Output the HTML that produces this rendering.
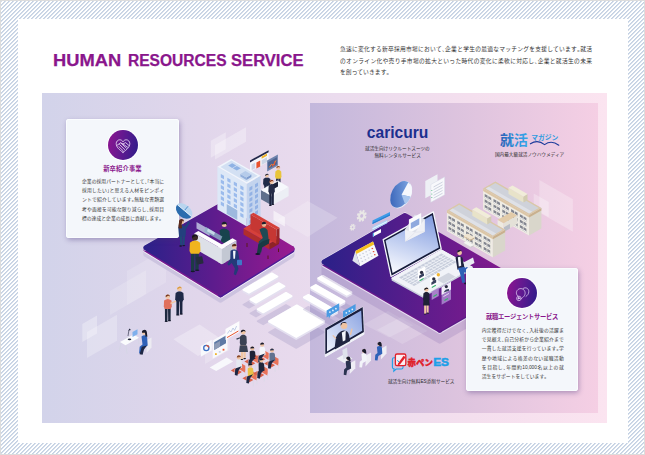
<!DOCTYPE html>
<html lang="ja"><head><meta charset="utf-8"><title>HUMAN RESOURCES SERVICE</title>
<style>
html,body{margin:0;padding:0}
body{width:645px;height:455px;overflow:hidden;position:relative;background:#fff;
 font-family:"Liberation Sans","Noto Sans CJK JP",sans-serif;color:#333;}
.frame{position:absolute;left:0;top:0;width:643px;height:453px;border:1px solid #dcdcdc;
 background:repeating-linear-gradient(135deg,#c4d1e3 0,#c4d1e3 0.62px,#ffffff 0.95px,#ffffff 2.8284px);}
.sheet{position:absolute;left:18px;top:19px;width:610px;height:424px;background:#fff;}
h1{position:absolute;left:0;top:50.2px;margin:0;font-size:15.8px;line-height:22px;font-weight:bold;color:#8a168c;-webkit-text-stroke:.25px #8a168c;white-space:nowrap;width:320px;height:22px}
h1 span{position:absolute;top:0;display:block;transform-origin:0 50%;}
.lead{position:absolute;left:340px;top:44px;width:252px;margin:0;font-size:5.75px;line-height:11.5px;color:#333;white-space:nowrap;}
.lead span{display:block;text-align:justify;text-align-last:justify}
.lead span.last{text-align-last:left;letter-spacing:0.1px}
.stage{position:absolute;left:42px;top:93px;width:565px;height:330px;
 background:linear-gradient(90deg,#d2d3ea 0%,#e1d6eb 28%,#ebdcee 52%,#f4dfee 76%,#fbe4f0 100%);}
.zone{position:absolute;left:309.5px;top:102.5px;width:288px;height:310.5px;
 background:linear-gradient(90deg,#c3b8dc 0%,#dcc3de 50%,#f5cfe4 100%);}
svg.illu{position:absolute;left:0;top:0;width:645px;height:455px;}
.card{position:absolute;background:#f4f7fb;border-radius:3px;box-shadow:inset 0 0 0 .8px #fcfeff,1px 2px 5px rgba(70,50,120,.38);}
.card .ico{position:absolute;width:30px;height:30px;border-radius:50%;box-shadow:0 0 0 1px rgba(255,255,255,.9);
 background:linear-gradient(100deg,#8f1490 0%,#5a1a90 55%,#2c1c88 100%);}
.card .ico svg{position:absolute;left:0;top:0;width:30px;height:30px}
.card h2{position:absolute;left:0;width:100%;margin:0;text-align:center;font-size:6.3px;line-height:9px;font-weight:bold;color:#8a168c;white-space:nowrap;}
.card p{position:absolute;margin:0;font-size:4.8px;color:#353535;white-space:nowrap;}
i.h{font-style:normal;font-feature-settings:"halt" 1}
.card p span{display:block;text-align:justify;text-align-last:justify;}
.card p span.last{text-align-last:left;letter-spacing:0.02px}
.cap{position:absolute;margin:0;font-size:4.6px;line-height:7.7px;color:#2a2a2a;text-align:center;white-space:nowrap;transform:translateX(-50%);letter-spacing:0.05px}
.logo{position:absolute;margin:0;white-space:nowrap;line-height:1;}
</style></head><body>
<div class="frame"></div>
<div class="sheet"></div>
<h1><span style="left:52.5px;transform:scaleX(1.16)">HUMAN</span> <span style="left:127.5px;transform:scaleX(0.985)">RESOURCES</span> <span style="left:231px;transform:scaleX(1.05)">SERVICE</span></h1>
<p class="lead"><span>急速に変化する新卒採用市場において<i class="h">、</i>企業と学生の最適なマッチングを支援しています<i class="h">。</i>就活</span><span>のオンライン化や売り手市場の拡大といった時代の変化に柔軟に対応し<i class="h">、</i>企業と就活生の未来</span><span class="last">を創っていきます<i class="h">。</i></span></p>
<div class="stage"></div>
<div class="zone"></div>
<svg class="illu" viewBox="0 0 645 455">
<defs>
<linearGradient id="gpl" x1="0" y1="0" x2="1" y2="0"><stop offset="0" stop-color="#2c2189"/><stop offset="0.45" stop-color="#5c1c8d"/><stop offset="1" stop-color="#981a90"/></linearGradient>
<linearGradient id="gpr" x1="0" y1="0" x2="1" y2="0"><stop offset="0" stop-color="#2b2088"/><stop offset="0.5" stop-color="#5e1c8c"/><stop offset="1" stop-color="#8a1a8e"/></linearGradient>
<linearGradient id="gscr" x1="0.65" y1="0" x2="0.35" y2="1"><stop offset="0" stop-color="#869fe0"/><stop offset="0.55" stop-color="#c3d0f1"/><stop offset="1" stop-color="#f4f6fd"/></linearGradient>
<linearGradient id="gscr2" x1="1" y1="0" x2="0" y2="1"><stop offset="0" stop-color="#8aa3e2"/><stop offset="1" stop-color="#eef2fb"/></linearGradient>
<linearGradient id="gpie" x1="0" y1="1" x2="1" y2="0"><stop offset="0" stop-color="#2f5bb3"/><stop offset="1" stop-color="#8db4ea"/></linearGradient>
<linearGradient id="gjk" x1="0" y1="0" x2="1" y2="0"><stop offset="0" stop-color="#2a5cb4"/><stop offset="0.5" stop-color="#2f8fd8"/><stop offset="1" stop-color="#35a6ea"/></linearGradient>
<filter id="blur2" x="-20%" y="-20%" width="140%" height="140%"><feGaussianBlur stdDeviation="1.6"/></filter>
<clipPath id="clipstage"><rect x="42" y="93" width="565" height="330"/></clipPath>
</defs>
<g clip-path="url(#clipstage)">
<polygon points="82.3,342 97,333.5 97,315.5 82.3,324" fill="#ffffff" opacity="0.3"/>
<polygon points="87,358 117,340.8 117,314.8 87,332" fill="#ffffff" opacity="0.25"/>
<polygon points="110,315 146,294.3 146,270.3 110,291" fill="#ffffff" opacity="0.17"/>
<polygon points="127,305 166,282.6 166,248.6 127,271" fill="#ffffff" opacity="0.15"/>
<polygon points="205,364 229.6,349.9 229.6,332.9 205,347" fill="#ffffff" opacity="0.22"/>
<polygon points="210.8,157.8 225.8,149.2 225.8,132.2 210.8,140.8" fill="#ffffff" opacity="0.3"/>
<polygon points="215,159.5 246,141.7 246,127.2 215,145" fill="#ffffff" opacity="0.3"/>
<polygon points="273.5,220 284.9,226.6 284.9,217.2 273.5,210.6" fill="#ffffff" opacity="0.55"/>
<polygon points="533.7,208.6 548.7,217.2 548.7,202 533.7,193.4" fill="#ffffff" opacity="0.28"/>
<polygon points="539.4,212.4 572.9,231.7 572.9,199.3 539.4,180" fill="#ffffff" opacity="0.26"/>
<polygon points="277.8,219.5 307.7,201.1 337.6,217.8 307.7,237.1" fill="#ffffff" opacity=".2"/>
<polygon points="173.5,339.2 199.6,324.6 224,341 198,356" fill="#ffffff" opacity=".3"/>
<polygon points="363.8,324.2 388,311 413.2,325.3 389,337.4" fill="#ffffff" opacity=".17"/>
<polygon points="377,329.7 402.3,316.5 427.5,330.8 402.3,344" fill="#ffffff" opacity=".17"/>
<polygon points="243.4,304.6 249,307.8 277.4,291.5 271.8,288.3" fill="#8f86b8" opacity=".26" stroke="#8f86b8" stroke-width="1.6" stroke-linejoin="round"/><polygon points="243.4,291.6 249,294.8 277.4,278.5 277.4,276.5 271.8,273.3 243.4,289.6" fill="#e4e0f0" stroke="#e4e0f0" stroke-width="1.8" stroke-linejoin="round"/><polygon points="243.4,289.6 249,292.8 277.4,276.5 271.8,273.3" fill="#ffffff" stroke="#ffffff" stroke-width="1.8" stroke-linejoin="round"/>
<polygon points="250.4,313.4 256,316.6 284.4,300.3 278.8,297.1" fill="#8f86b8" opacity=".26" stroke="#8f86b8" stroke-width="1.6" stroke-linejoin="round"/><polygon points="250.4,301.4 256,304.6 284.4,288.3 284.4,286.3 278.8,283.1 250.4,299.4" fill="#e4e0f0" stroke="#e4e0f0" stroke-width="1.8" stroke-linejoin="round"/><polygon points="250.4,299.4 256,302.6 284.4,286.3 278.8,283.1" fill="#ffffff" stroke="#ffffff" stroke-width="1.8" stroke-linejoin="round"/>
<polygon points="257.6,321.2 263.2,324.4 291.6,308.1 286,304.9" fill="#8f86b8" opacity=".26" stroke="#8f86b8" stroke-width="1.6" stroke-linejoin="round"/><polygon points="257.6,311.2 263.2,314.4 291.6,298.1 291.6,296.1 286,292.9 257.6,309.2" fill="#e4e0f0" stroke="#e4e0f0" stroke-width="1.8" stroke-linejoin="round"/><polygon points="257.6,309.2 263.2,312.4 291.6,296.1 286,292.9" fill="#ffffff" stroke="#ffffff" stroke-width="1.8" stroke-linejoin="round"/>
<polygon points="269,332.4 296.2,348 324,332.1 296.8,316.4" fill="#8f86b8" opacity=".26" stroke="#8f86b8" stroke-width="1.6" stroke-linejoin="round"/><polygon points="269,323.4 296.2,339 324,323.1 324,321.1 296.8,305.4 269,321.4" fill="#e4e0f0" stroke="#e4e0f0" stroke-width="1.8" stroke-linejoin="round"/><polygon points="269,321.4 296.2,337 324,321.1 296.8,305.4" fill="#ffffff" stroke="#ffffff" stroke-width="1.8" stroke-linejoin="round"/>
<polygon points="318.2,293.4 346.8,309.8 351.4,307.2 322.8,290.8" fill="#8f86b8" opacity=".26" stroke="#8f86b8" stroke-width="1.6" stroke-linejoin="round"/><polygon points="318.2,280.4 346.8,296.8 351.4,294.2 351.4,292.2 322.8,275.8 318.2,278.4" fill="#e4e0f0" stroke="#e4e0f0" stroke-width="1.8" stroke-linejoin="round"/><polygon points="318.2,278.4 346.8,294.8 351.4,292.2 322.8,275.8" fill="#ffffff" stroke="#ffffff" stroke-width="1.8" stroke-linejoin="round"/>
<polygon points="311.2,301.6 339.8,318 344.4,315.4 315.8,299" fill="#8f86b8" opacity=".26" stroke="#8f86b8" stroke-width="1.6" stroke-linejoin="round"/><polygon points="311.2,289.6 339.8,306 344.4,303.4 344.4,301.4 315.8,285 311.2,287.6" fill="#e4e0f0" stroke="#e4e0f0" stroke-width="1.8" stroke-linejoin="round"/><polygon points="311.2,287.6 339.8,304 344.4,301.4 315.8,285" fill="#ffffff" stroke="#ffffff" stroke-width="1.8" stroke-linejoin="round"/>
<polygon points="303.8,309.4 332.4,325.8 337,323.2 308.4,306.8" fill="#8f86b8" opacity=".26" stroke="#8f86b8" stroke-width="1.6" stroke-linejoin="round"/><polygon points="303.8,299.4 332.4,315.8 337,313.2 337,311.2 308.4,294.8 303.8,297.4" fill="#e4e0f0" stroke="#e4e0f0" stroke-width="1.8" stroke-linejoin="round"/><polygon points="303.8,297.4 332.4,313.8 337,311.2 308.4,294.8" fill="#ffffff" stroke="#ffffff" stroke-width="1.8" stroke-linejoin="round"/>
<polygon points="145.8,256.8 220.5,303.2 292,257.7 220.5,273.2" fill="#7466ad" opacity=".10"/>
<polygon points="145.8,247.8 220.5,293.2 292,248.7 292,255.3 220.5,299.8 145.8,254.4" fill="#c9c1de" stroke="#c9c1de" stroke-width="5" stroke-linejoin="round" opacity=".75"/>
<polygon points="145.8,247.8 220.5,293.2 292,248.7 292,251.3 220.5,295.8 145.8,250.4" fill="#f6f3fb" stroke="#f6f3fb" stroke-width="5" stroke-linejoin="round"/>
<polygon points="145.8,247.8 220.5,293.2 220.5,294.8 145.8,249.4" fill="#7a1a90" stroke="#7a1a90" stroke-width="5" stroke-linejoin="round"/>
<polygon points="220.5,293.2 292,248.7 292,250.3 220.5,294.8" fill="#4b1c96" stroke="#4b1c96" stroke-width="5" stroke-linejoin="round"/>
<path d="M145.8 247.8 L220.5 205.5" stroke="#ffffff" stroke-width="5.9" stroke-linecap="round" opacity=".85"/>
<polygon points="145.8,247.8 220.5,293.2 292,248.7 220.5,205.5" fill="url(#gpl)" stroke="url(#gpl)" stroke-width="5" stroke-linejoin="round"/>
<polygon points="217.4,209.6 246.8,226.5 246.8,183.7 217.4,166.8" fill="#dde8f7"/><polygon points="246.8,226.5 260.6,218.6 260.6,175.8 246.8,183.7" fill="#c3d4ee"/><polygon points="217.4,166.8 246.8,183.7 260.6,175.8 231.2,158.9" fill="#f0f5fc"/>
<polygon points="220.4,166.9 246.6,182 257.6,175.7 231.4,160.6" fill="#d3e0f3"/>
<polygon points="240.4,176.6 246.4,180 246.4,177.4 240.4,174" fill="#93b0dc"/><polygon points="246.4,180 251.4,177.1 251.4,174.5 246.4,177.4" fill="#7f9dcf"/><polygon points="240.4,174 246.4,177.4 251.4,174.5 245.4,171.1" fill="#b5cbea"/>
<polygon points="228.2,165.6 232.2,167.9 236.2,165.6 232.2,163.3" fill="#8fb2e4"/>
<polygon points="232.8,168.3 236.8,170.6 240.8,168.3 236.8,166" fill="#8fb2e4"/>
<polygon points="220.8,174 224,175.8 224,179.3 220.8,177.5" fill="#9bbbec"/>
<polygon points="220.8,179.5 224,181.3 224,184.8 220.8,183" fill="#9bbbec"/>
<polygon points="220.8,185 224,186.8 224,190.3 220.8,188.5" fill="#9bbbec"/>
<polygon points="220.8,190.5 224,192.3 224,195.8 220.8,194" fill="#9bbbec"/>
<polygon points="220.8,196 224,197.8 224,201.3 220.8,199.5" fill="#9bbbec"/>
<polygon points="220.8,201.5 224,203.3 224,206.8 220.8,205" fill="#9bbbec"/>
<polygon points="227.3,177.7 230.5,179.5 230.5,183 227.3,181.2" fill="#9bbbec"/>
<polygon points="227.3,183.2 230.5,185 230.5,188.5 227.3,186.7" fill="#9bbbec"/>
<polygon points="227.3,188.7 230.5,190.5 230.5,194 227.3,192.2" fill="#9bbbec"/>
<polygon points="227.3,194.2 230.5,196 230.5,199.5 227.3,197.7" fill="#9bbbec"/>
<polygon points="227.3,199.7 230.5,201.5 230.5,205 227.3,203.2" fill="#9bbbec"/>
<polygon points="227.3,205.2 230.5,207 230.5,210.5 227.3,208.7" fill="#9bbbec"/>
<polygon points="233.8,181.4 237,183.3 237,186.8 233.8,184.9" fill="#9bbbec"/>
<polygon points="233.8,186.9 237,188.8 237,192.3 233.8,190.4" fill="#9bbbec"/>
<polygon points="233.8,192.4 237,194.3 237,197.8 233.8,195.9" fill="#9bbbec"/>
<polygon points="233.8,197.9 237,199.8 237,203.3 233.8,201.4" fill="#9bbbec"/>
<polygon points="233.8,203.4 237,205.3 237,208.8 233.8,206.9" fill="#9bbbec"/>
<polygon points="233.8,208.9 237,210.8 237,214.3 233.8,212.4" fill="#9bbbec"/>
<polygon points="240.3,185.2 243.5,187 243.5,190.5 240.3,188.7" fill="#9bbbec"/>
<polygon points="240.3,190.7 243.5,192.5 243.5,196 240.3,194.2" fill="#9bbbec"/>
<polygon points="240.3,196.2 243.5,198 243.5,201.5 240.3,199.7" fill="#9bbbec"/>
<polygon points="240.3,201.7 243.5,203.5 243.5,207 240.3,205.2" fill="#9bbbec"/>
<polygon points="240.3,207.2 243.5,209 243.5,212.5 240.3,210.7" fill="#9bbbec"/>
<polygon points="240.3,212.7 243.5,214.5 243.5,218 240.3,216.2" fill="#9bbbec"/>
<polygon points="225.8,202.8 238.2,210 238.2,220.4 225.8,213.2" fill="#eaf1fb"/>
<polygon points="226.6,204.1 237.4,210.3 237.4,219.9 226.6,213.7" fill="#9db9de"/>
<polygon points="249.4,187.4 252.4,185.7 252.4,189.2 249.4,190.9" fill="#93b2e4"/>
<polygon points="249.4,192.9 252.4,191.2 252.4,194.7 249.4,196.4" fill="#93b2e4"/>
<polygon points="249.4,198.4 252.4,196.7 252.4,200.2 249.4,201.9" fill="#93b2e4"/>
<polygon points="249.4,203.9 252.4,202.2 252.4,205.7 249.4,207.4" fill="#93b2e4"/>
<polygon points="249.4,209.4 252.4,207.7 252.4,211.2 249.4,212.9" fill="#93b2e4"/>
<polygon points="249.4,214.9 252.4,213.2 252.4,216.7 249.4,218.4" fill="#93b2e4"/>
<polygon points="249.4,220.4 252.4,218.7 252.4,222.2 249.4,223.9" fill="#93b2e4"/>
<polygon points="255,184.2 258,182.5 258,186 255,187.7" fill="#93b2e4"/>
<polygon points="255,189.7 258,188 258,191.5 255,193.2" fill="#93b2e4"/>
<polygon points="255,195.2 258,193.5 258,197 255,198.7" fill="#93b2e4"/>
<polygon points="255,200.7 258,199 258,202.5 255,204.2" fill="#93b2e4"/>
<polygon points="255,206.2 258,204.5 258,208 255,209.7" fill="#93b2e4"/>
<polygon points="255,211.7 258,210 258,213.5 255,215.2" fill="#93b2e4"/>
<polygon points="255,217.2 258,215.5 258,219 255,220.7" fill="#93b2e4"/>
<polygon points="250,160.4 268.6,150.2 268.6,161.6 250,171.8" fill="#f4f6fb"/>
<polygon points="250,160.4 268.6,150.2 268.6,152.2 250,162.4" fill="#23274a"/>
<polygon points="251.6,164.6 255.2,162.6 255.2,168.2 251.6,170.2" fill="#cdd5e6"/>
<polygon points="256.4,162.6 260.2,160.5 260.2,166.4 256.4,168.5" fill="#e8542e"/>
<polygon points="261.6,156.6 267,153.6 267,155.8 261.6,158.8" fill="#f0b429"/>
<polygon points="261.6,160.2 267,157.2 267,162 261.6,165" fill="#cdd5e6"/>
<polygon points="267.1,160.6 277.9,154.6 277.9,165.6 267.1,171.6" fill="#6f84ad"/>
<polygon points="268.1,162.2 276.9,157.3 276.9,164.2 268.1,169.1" fill="#4d628e"/>
<path d="M269.3 167.4 L271.3 164.4 L273.3 165.2 L276 160.4" stroke="#ff8a3c" stroke-width=".9" fill="none"/>
<path d="M272.6 166.6 l0 -2.4 M274.6 165.4 l0 -4" stroke="#e8542e" stroke-width=".9"/>
<path d="M276 178 l2.2 0 l-0.2 12 l-1.9 0 z M278.4 178 l2.2 0 l-0.1 11.2 l-1.9 0 z" fill="#2d3552"/><ellipse cx="277" cy="190" rx="1.3" ry="0.5" fill="#15182a"/><ellipse cx="279.6" cy="189.2" rx="1.3" ry="0.5" fill="#15182a"/><path d="M275.4 171.4 Q278.3 168.3 281.2 171.4 L281.5 176.7 L280.6 178.8 L275.9 178.8 L275.1 176.7 Z" fill="#e9c53b"/><circle cx="278.3" cy="167.9" r="1.9" fill="#f1c7a5"/><path d="M276.4 168.3 A1.9 1.9 0 0 1 280.2 167.6 L278.7 167 Z" fill="#8a4a22"/>
<path d="M264.2 185 l2.6 0 l-0.2 11 l-2.3 0 z M267.1 185 l2.6 0 l-0.1 10.3 l-2.3 0 z" fill="#1f2a48"/><ellipse cx="265.4" cy="196" rx="1.5" ry="0.5" fill="#15182a"/><ellipse cx="268.4" cy="195.3" rx="1.5" ry="0.5" fill="#15182a"/><path d="M263.4 178.9 Q266.9 176 270.4 178.9 L270.7 183.8 L269.6 185.8 L264 185.8 L263.1 183.8 Z" fill="#1f2a48"/><circle cx="266.9" cy="175.7" r="1.8" fill="#f1c7a5"/><path d="M265.1 176.1 A1.8 1.8 0 0 1 268.7 175.3 L267.3 174.8 Z" fill="#22243a"/>
<polygon points="261,199.3 272,205.6 272,196.4 261,190.1" fill="#5f6f8c"/><polygon points="272,205.6 288.6,196.1 288.6,186.9 272,196.4" fill="#eceff5"/><polygon points="261,190.1 272,196.4 288.6,186.9 277.6,180.6" fill="#f6f8fc"/>
<polygon points="272.2,184.6 278,181.4 278,186.6 272.2,189.8" fill="#1d2238"/>
<path d="M269.3 192.7 l2.2 0 l-0.2 12.7 l-1.9 0 z M271.7 192.7 l2.2 0 l-0.1 11.9 l-1.9 0 z" fill="#1d2440"/><ellipse cx="270.3" cy="205.4" rx="1.3" ry="0.5" fill="#15182a"/><ellipse cx="272.9" cy="204.6" rx="1.3" ry="0.5" fill="#15182a"/><path d="M268.7 185.7 Q271.6 182.4 274.5 185.7 L274.8 191.3 L273.9 193.5 L269.2 193.5 L268.4 191.3 Z" fill="#252c48"/><circle cx="271.6" cy="182" r="2.1" fill="#f1c7a5"/><path d="M269.5 182.4 A2.1 2.1 0 0 1 273.7 181.6 L272 181 Z" fill="#8a3b22"/>
<polygon points="243.5,234.5 269.5,249.4 269.5,243.4 243.5,228.5" fill="#b02d2c"/><polygon points="269.5,249.4 279,244 279,238 269.5,243.4" fill="#8e2326"/><polygon points="243.5,228.5 269.5,243.4 279,238 253,223" fill="#d5403a"/>
<polygon points="250.5,229 276.5,243.9 276.5,229.4 250.5,214.5" fill="#c63733"/><polygon points="276.5,243.9 279.5,242.2 279.5,227.7 276.5,229.4" fill="#9a2628"/><polygon points="250.5,214.5 276.5,229.4 279.5,227.7 253.5,212.8" fill="#d5403a"/>
<path d="M247 243 L247 247 M268 255.5 L268 259 M278.5 248.5 L278.5 252" stroke="#5a1a1c" stroke-width="1"/>
<path d="M259.5 229.5 q4.5 -3.5 8 0.5 l1.2 10 l-6 4.5 l-1.5 8 l-3.2 -1 l0.8 -10 l4 -3.5 z" fill="#1f4a55"/>
<path d="M263 241 l6.5 -2 l-0.5 4.5 l-7 4 l-2 7.5 l-3.2 -1 l1.5 -9.5 z" fill="#183a44"/>
<circle cx="264" cy="224.6" r="2.3" fill="#e8b796"/><path d="M261.7 224.4 a2.3 2.3 0 0 1 4.6 -.6 z" fill="#1d1f30"/>
<ellipse cx="257.5" cy="254" rx="2.2" ry="1" fill="#15182a"/>
<polygon points="196.5,222 209.6,229.4 209.6,236 196.5,228.6" fill="#c5d0e6" opacity=".8"/>
<path d="M219.4 230.6 q5 -4.6 10 0.4 l.8 9 l-2.2 5.4 l-6.6 -3.6 z" fill="#17434d"/>
<circle cx="224.3" cy="224.6" r="2.5" fill="#eec3a2"/><path d="M221.7 225 a2.7 2.7 0 0 1 5.3 -1.2 l0 2 l-1 -1.8 l-3.4 .4 z" fill="#1b1d2e"/>
<polygon points="194.4,248.5 221.9,264.3 221.9,249 194.4,233.2" fill="#dde0e8"/><polygon points="221.9,264.3 225.9,262 225.9,246.7 221.9,249" fill="#c6cad5"/><polygon points="194.4,233.2 221.9,249 225.9,246.7 198.4,230.9" fill="#fdfdfe"/>
<polygon points="217.9,262 221.9,264.3 221.9,249 217.9,246.7" fill="#dde0e8"/><polygon points="221.9,264.3 236.5,255.9 236.5,240.6 221.9,249" fill="#c3c8d3"/><polygon points="217.9,246.7 221.9,249 236.5,240.6 232.5,238.3" fill="#fdfdfe"/>
<polygon points="204,231.4 220.6,240.8 222.4,236.4 206,227" fill="#8fb3c8" opacity=".8"/>
<polygon points="207,231.2 214,235.2 215,232.4 208,228.4" fill="#d5e6f0" opacity=".8"/>
<path d="M191 253 l3.6 0 l-0.3 18.5 l-3.3 0 z M195.2 253 l3.6 0 l-0.2 17.3 l-3.3 0 z" fill="#1d3a46"/><ellipse cx="192.8" cy="271.5" rx="2.2" ry="0.8" fill="#15182a"/><ellipse cx="197.2" cy="270.3" rx="2.2" ry="0.8" fill="#15182a"/><path d="M189.9 242.8 Q195 238.1 200.1 242.8 L200.5 251.1 L199 253.8 L190.8 253.8 L189.5 251.1 Z" fill="#f0b41f"/><circle cx="195" cy="237.5" r="3" fill="#3a2a26"/><path d="M192 238.1 A3 3 0 0 1 198 236.9 L195.6 236 Z" fill="#16161f"/>
<rect x="196.3" y="256.6" width="6.6" height="7.4" rx=".8" transform="rotate(-12 199.6 260)" fill="#262b3e"/>
<g transform="translate(0 4.2)">
<path d="M230.5 246.5 q4.5 -2.5 7.5 0.5 l1.5 9 l-3 1.5 l2 7 l-2.6 6.5 l-2.2 -1 l1.2 -5.6 l-3.2 -5.6 l-2.8 2.8 l-1.6 -1.8 l3 -5.2 z" fill="#243a78"/>
<path d="M233 246.5 l2.6 0 l-.6 8 l-1.6 0 z" fill="#f3f6fb"/>
<circle cx="234.2" cy="242.4" r="2.3" fill="#eec3a2"/><path d="M231.9 242.3 a2.3 2.3 0 0 1 4.6 -.6 z" fill="#5b2d1c"/>
<rect x="237" y="255.5" width="5" height="5.5" rx=".8" fill="#3f79c6"/>
</g>
<polygon points="324,262 439.7,328.6 520.5,282.1 520.5,294.6 439.7,341.1 324,274.5" fill="#7a5ea8" stroke="#7a5ea8" stroke-width="5" stroke-linejoin="round" opacity=".2"/>
<polygon points="324,262 439.7,328.6 520.5,282.1 520.5,284.9 439.7,331.4 324,264.8" fill="#e6dcf2" stroke="#e6dcf2" stroke-width="5" stroke-linejoin="round"/>
<polygon points="324,262 439.7,328.6 439.7,330.2 324,263.6" fill="#6a1a8c" stroke="#6a1a8c" stroke-width="5" stroke-linejoin="round"/>
<polygon points="439.7,328.6 520.5,282.1 520.5,283.7 439.7,330.2" fill="#5a1a86" stroke="#5a1a86" stroke-width="5" stroke-linejoin="round"/>
<path d="M324 262 L404.8 215.5" stroke="#ffffff" stroke-width="6" stroke-linecap="round" opacity=".8"/>
<polygon points="324,262 439.7,328.6 520.5,282.1 404.8,215.5" fill="url(#gpr)" stroke="url(#gpr)" stroke-width="5" stroke-linejoin="round"/>
<g transform="translate(361.7 215.9) rotate(22) scale(.86 1.12)"><rect x="3.2" y="-1.2" width="2.3" height="2.3" transform="rotate(0 4.4 0)" fill="#e9e7e6"/><rect x="1.9" y="1.9" width="2.3" height="2.3" transform="rotate(45 3.1 3.1)" fill="#e9e7e6"/><rect x="-1.2" y="3.2" width="2.3" height="2.3" transform="rotate(90 0 4.4)" fill="#e9e7e6"/><rect x="-4.3" y="1.9" width="2.3" height="2.3" transform="rotate(135 -3.1 3.1)" fill="#e9e7e6"/><rect x="-5.6" y="-1.2" width="2.3" height="2.3" transform="rotate(180 -4.4 0)" fill="#e9e7e6"/><rect x="-4.3" y="-4.3" width="2.3" height="2.3" transform="rotate(225 -3.1 -3.1)" fill="#e9e7e6"/><rect x="-1.2" y="-5.6" width="2.3" height="2.3" transform="rotate(270 -0 -4.4)" fill="#e9e7e6"/><rect x="1.9" y="-4.3" width="2.3" height="2.3" transform="rotate(315 3.1 -3.1)" fill="#e9e7e6"/><circle cx="0" cy="0" r="2.8" fill="none" stroke="#e9e7e6" stroke-width="2.2"/></g>
<g transform="translate(352.6 227.3) rotate(22) scale(.86 1.12)"><rect x="1.9" y="-0.7" width="1.4" height="1.4" transform="rotate(0 2.5 0)" fill="#e9e7e6"/><rect x="1.1" y="1.1" width="1.4" height="1.4" transform="rotate(45 1.8 1.8)" fill="#e9e7e6"/><rect x="-0.7" y="1.9" width="1.4" height="1.4" transform="rotate(90 0 2.5)" fill="#e9e7e6"/><rect x="-2.5" y="1.1" width="1.4" height="1.4" transform="rotate(135 -1.8 1.8)" fill="#e9e7e6"/><rect x="-3.2" y="-0.7" width="1.4" height="1.4" transform="rotate(180 -2.5 0)" fill="#e9e7e6"/><rect x="-2.5" y="-2.5" width="1.4" height="1.4" transform="rotate(225 -1.8 -1.8)" fill="#e9e7e6"/><rect x="-0.7" y="-3.2" width="1.4" height="1.4" transform="rotate(270 -0 -2.5)" fill="#e9e7e6"/><rect x="1.1" y="-2.5" width="1.4" height="1.4" transform="rotate(315 1.8 -1.8)" fill="#e9e7e6"/><circle cx="0" cy="0" r="1.6" fill="none" stroke="#e9e7e6" stroke-width="1.3"/></g>
<polygon points="372.5,220.5 390,212 390,215.5 372.5,224" fill="#3d9be8"/>
<polygon points="372.5,222.8 390,214.3 390,215.5 372.5,224" fill="#2a7fd0"/>
<polygon points="372.5,227.1 387.2,219.7 387.2,223.2 372.5,230.2" fill="#a9d4f6"/>
<polygon points="372.5,228.3 387.2,220.9 387.2,222 372.5,229.2" fill="#eef7fe"/>
<polygon points="372.9,233.3 381,229 381,232.5 372.9,236.8" fill="#ffffff"/>
<polygon points="372.9,233.3 374,232.7 374,236.2 372.9,236.8" fill="#5ec3f0"/>
<g transform="rotate(28 401.3 194.7)"><ellipse cx="401.3" cy="194.7" rx="9.6" ry="14.6" fill="#e9eef8"/><ellipse cx="400.6" cy="194.7" rx="9.2" ry="14.2" fill="url(#gpie)"/><path d="M401.6 194.7 L401.6 180.6 A9.2 14.1 0 0 1 410.6 192 Z" fill="#f6f8fd"/><path d="M401.6 194.7 L410.6 192 A9.2 14.1 0 0 1 409.4 201.6 Z" fill="#a9c6ee"/></g>
<polygon points="425.3,181 437.5,174.3 437.5,191.5 425.3,198.3" fill="#eef0f5"/>
<polygon points="430.8,184.5 444.6,177 444.6,194.8 430.8,202.3" fill="#f8f9fc" stroke="#d7dbe6" stroke-width=".5"/>
<path d="M433.5 187 L442.6 182" stroke="#c3c9d8" stroke-width=".8"/>
<path d="M433.5 189.8 L442.6 184.8" stroke="#c3c9d8" stroke-width=".8"/>
<path d="M433.5 192.6 L442.6 187.6" stroke="#c3c9d8" stroke-width=".8"/>
<path d="M433.5 195.4 L442.6 190.4" stroke="#c3c9d8" stroke-width=".8"/>
<path d="M433.5 198.2 L442.6 193.2" stroke="#c3c9d8" stroke-width=".8"/>
<path d="M431.8 190 l0 1 M431.8 193.6 l0 1 M431.8 197 l0 1" stroke="#5fbf8a" stroke-width=".9"/>
<polygon points="355.4,250.9 352.4,260.8 360.3,266.3" fill="#dfe2ec"/>
<polygon points="355.4,250.9 373,241.5 378.5,255.8 360.3,266.3" fill="#f7f8fb"/>
<polygon points="355.4,250.9 373,241.5 374.1,244.4 356.4,253.9" fill="#f5bd1f"/>
<rect x="359.2" y="254.6" width="1.5" height="1.2" fill="#c9cddb"/>
<rect x="362.3" y="252.9" width="1.5" height="1.2" fill="#c9cddb"/>
<rect x="365.4" y="251.2" width="1.5" height="1.2" fill="#c9cddb"/>
<rect x="368.5" y="249.6" width="1.5" height="1.2" fill="#c9cddb"/>
<rect x="371.6" y="247.9" width="1.5" height="1.2" fill="#e2553d"/>
<rect x="360.4" y="257.7" width="1.5" height="1.2" fill="#c9cddb"/>
<rect x="363.5" y="256" width="1.5" height="1.2" fill="#c9cddb"/>
<rect x="366.6" y="254.3" width="1.5" height="1.2" fill="#c9cddb"/>
<rect x="369.7" y="252.7" width="1.5" height="1.2" fill="#c9cddb"/>
<rect x="372.8" y="251" width="1.5" height="1.2" fill="#e2553d"/>
<rect x="361.6" y="260.8" width="1.5" height="1.2" fill="#c9cddb"/>
<rect x="364.7" y="259.1" width="1.5" height="1.2" fill="#c9cddb"/>
<rect x="367.8" y="257.4" width="1.5" height="1.2" fill="#c9cddb"/>
<rect x="370.9" y="255.8" width="1.5" height="1.2" fill="#c9cddb"/>
<rect x="374" y="254.1" width="1.5" height="1.2" fill="#e2553d"/>
<polygon points="391.6,278.2 441.4,249.8 472.6,267.2 472.6,269.4 422.8,297.8 391.6,280.4" fill="#c9cfdd"/>
<polygon points="391.6,278.2 441.4,249.8 472.6,267.2 422.8,295.6" fill="#f1f3f8" stroke="#f1f3f8" stroke-width="1" stroke-linejoin="round"/>
<polygon points="399,277.6 441.5,253.6 456.5,262 414,286" fill="#c8cedc"/>
<path d="M401.5 279 L444 255" stroke="#f1f3f8" stroke-width=".9"/>
<path d="M404 280.4 L446.5 256.4" stroke="#f1f3f8" stroke-width=".9"/>
<path d="M406.5 281.8 L449 257.8" stroke="#f1f3f8" stroke-width=".9"/>
<path d="M409 283.2 L451.5 259.2" stroke="#f1f3f8" stroke-width=".9"/>
<path d="M411.5 284.6 L454 260.6" stroke="#f1f3f8" stroke-width=".9"/>
<path d="M402.5 275.6 L417.5 284" stroke="#f1f3f8" stroke-width=".7"/>
<path d="M406.1 273.6 L421.1 282" stroke="#f1f3f8" stroke-width=".7"/>
<path d="M409.6 271.6 L424.6 280" stroke="#f1f3f8" stroke-width=".7"/>
<path d="M413.2 269.6 L428.2 278" stroke="#f1f3f8" stroke-width=".7"/>
<path d="M416.7 267.6 L431.7 276" stroke="#f1f3f8" stroke-width=".7"/>
<path d="M420.2 265.6 L435.2 274" stroke="#f1f3f8" stroke-width=".7"/>
<path d="M423.8 263.6 L438.8 272" stroke="#f1f3f8" stroke-width=".7"/>
<path d="M427.3 261.6 L442.3 270" stroke="#f1f3f8" stroke-width=".7"/>
<path d="M430.9 259.6 L445.9 268" stroke="#f1f3f8" stroke-width=".7"/>
<path d="M434.4 257.6 L449.4 266" stroke="#f1f3f8" stroke-width=".7"/>
<path d="M438 255.6 L453 264" stroke="#f1f3f8" stroke-width=".7"/>
<polygon points="436.5,279.6 448.5,272.8 455.5,276.8 443.5,283.6" fill="#d2d6e0"/>
<polygon points="383.2,239.6 433.3,211.9 441.2,248.8 391.1,276.5" fill="#151a3a" stroke="#f4f6fb" stroke-width="1.3" stroke-linejoin="round"/>
<polygon points="385.6,240.8 432,215.2 438.8,247.4 392.6,273" fill="url(#gscr)"/>
<polygon points="404.9,229.8 414.8,214.6 424.7,218.9 424.7,231.7 405.4,241.6" fill="#dcdfe8"/>
<polygon points="408.9,219.6 421.2,212.9 421.2,226.6 408.9,233.3" fill="#fafbfd"/>
<polygon points="410.8,222.9 419.3,218.3 419.3,224.4 410.8,229" fill="#8fa9de"/>
<polygon points="404.9,229.8 415.2,232.2 424.7,218.9 424.7,231.7 405.4,241.6" fill="#f0f1f6"/>
<path d="M405.4 241.6 L415.2 232.2 L424.7 231.7" stroke="#dfe1ea" stroke-width=".6" fill="none"/>
<polygon points="417.8,270.6 425.4,266.3 425.4,276.8 417.8,281.1" fill="#ffffff"/><circle cx="421.6" cy="272.4" r="1.7" fill="#2a2c40"/><path d="M419.2 275.8 q2.4 -2.6 4.8 -2.6 l0 2.6 l-4.8 2.7 z" fill="#39415f"/><path d="M419.6 280.8 l4 -2.2" stroke="#37b36b" stroke-width="1.1"/>
<polygon points="430,277.2 437.6,272.9 437.6,283.4 430,287.7" fill="#ffffff"/><circle cx="433.8" cy="279" r="1.7" fill="#2a2c40"/><path d="M431.4 282.4 q2.4 -2.6 4.8 -2.6 l0 2.6 l-4.8 2.7 z" fill="#39415f"/><path d="M431.8 287.4 l4 -2.2" stroke="#37b36b" stroke-width="1.1"/>
<circle cx="438.3" cy="274.8" r="1.7" fill="#f2b632"/>
<polygon points="431.7,291.8 438.8,287.8 438.8,296 431.7,300" fill="#a880ca"/>
<path d="M433.4 296.6 l3.6 -2" stroke="#37b36b" stroke-width="1.1"/>
<polygon points="441.6,287.2 451,281.8 451,299.4 441.6,304.8" fill="#a27ac6"/>
<polygon points="441.6,287.2 451,281.8 451,289.6 441.6,295" fill="#f2effa"/>
<circle cx="446.3" cy="286.6" r="1.6" fill="#2a2c40"/><path d="M443.6 292.4 q1.6 -3.4 5.4 -3.4 l0 1.8 z" fill="#39415f"/>
<path d="M443.4 296.6 l5.6 -3.2" stroke="#f2effa" stroke-width=".8"/><path d="M444.4 300.6 l3.6 -2" stroke="#37b36b" stroke-width="1.2"/>
<path d="M424.1 300.8 l2.2 0 l-0.2 13.2 l-1.9 0 z M426.5 300.8 l2.2 0 l-0.1 12.4 l-1.9 0 z" fill="#f1c7a5"/><ellipse cx="425.1" cy="314" rx="1.3" ry="0.6" fill="#15182a"/><ellipse cx="427.7" cy="313.2" rx="1.3" ry="0.6" fill="#15182a"/><path d="M423.4 293.5 Q426.4 290.1 429.4 293.5 L429.6 299.4 L428.7 301.6 L423.9 301.6 L423.1 299.4 Z" fill="#1f2236"/><circle cx="426.4" cy="289.7" r="2.1" fill="#f1c7a5"/><path d="M424.3 290.2 A2.1 2.1 0 0 1 428.5 289.3 L426.8 288.7 Z" fill="#16161f"/>
<path d="M423.6 300 l5.6 0 l.6 5.6 l-6.8 0 z" fill="#1f2236"/>
<path d="M455.5 257.5 q4 -3 7 0.2 l2 9.5 l-7 2.5 z" fill="#1f2540"/>
<path d="M457.8 257.2 l2.6 -.4 l.8 9 l-2.4 .8 z" fill="#f3f6fb"/>
<path d="M458 268 l8.5 -1.5 l4.2 4 l1.2 10 l-2.6 .6 l-2.2 -8.2 l-3 -.6 l1 10.2 l-2.8 .6 l-2.4 -10 z" fill="#2f62b8"/>
<circle cx="459.6" cy="252.8" r="2.4" fill="#eec3a2"/><path d="M457.2 252.8 a2.4 2.4 0 0 1 4.8 -.8 l-.4 -1.4 z" fill="#1b1d2e"/>
<polygon points="463.5,262.5 473,257.5 474.5,263 465,268" fill="#e9ecf3"/>
<ellipse cx="466" cy="283.4" rx="2" ry=".9" fill="#15182a"/><ellipse cx="471.8" cy="280.8" rx="2" ry=".9" fill="#15182a"/>
<polygon points="483.1,209.2 529.1,235.6 529.1,215 483.1,188.6" fill="#efece4"/><polygon points="529.1,235.6 541.4,228.6 541.4,208 529.1,215" fill="#d9d6cb"/><polygon points="483.1,188.6 529.1,215 541.4,208 495.4,181.5" fill="#cfd2da"/><polygon points="484.7,193.9 487.6,195.6 487.6,199.4 484.7,197.7" fill="#82858f"/><polygon points="484.7,196.5 487.6,198.2 487.6,199.4 484.7,197.7" fill="#f4f4f2"/><polygon points="484.7,199.3 487.6,201 487.6,204.8 484.7,203.1" fill="#82858f"/><polygon points="484.7,201.9 487.6,203.6 487.6,204.8 484.7,203.1" fill="#f4f4f2"/><polygon points="484.7,204.7 487.6,206.4 487.6,210.2 484.7,208.5" fill="#82858f"/><polygon points="484.7,207.3 487.6,209 487.6,210.2 484.7,208.5" fill="#f4f4f2"/><polygon points="488.3,196 491.2,197.7 491.2,201.5 488.3,199.8" fill="#82858f"/><polygon points="488.3,198.6 491.2,200.3 491.2,201.5 488.3,199.8" fill="#f4f4f2"/><polygon points="488.3,201.4 491.2,203.1 491.2,206.9 488.3,205.2" fill="#82858f"/><polygon points="488.3,204 491.2,205.7 491.2,206.9 488.3,205.2" fill="#f4f4f2"/><polygon points="488.3,206.8 491.2,208.5 491.2,212.3 488.3,210.6" fill="#82858f"/><polygon points="488.3,209.4 491.2,211.1 491.2,212.3 488.3,210.6" fill="#f4f4f2"/><polygon points="493.5,199 496.4,200.6 496.4,204.4 493.5,202.8" fill="#82858f"/><polygon points="493.5,201.6 496.4,203.2 496.4,204.4 493.5,202.8" fill="#f4f4f2"/><polygon points="493.5,204.4 496.4,206 496.4,209.8 493.5,208.2" fill="#82858f"/><polygon points="493.5,207 496.4,208.6 496.4,209.8 493.5,208.2" fill="#f4f4f2"/><polygon points="493.5,209.8 496.4,211.4 496.4,215.2 493.5,213.6" fill="#82858f"/><polygon points="493.5,212.4 496.4,214 496.4,215.2 493.5,213.6" fill="#f4f4f2"/><polygon points="497.1,201.1 500,202.7 500,206.5 497.1,204.9" fill="#82858f"/><polygon points="497.1,203.7 500,205.3 500,206.5 497.1,204.9" fill="#f4f4f2"/><polygon points="497.1,206.4 500,208.1 500,211.9 497.1,210.2" fill="#82858f"/><polygon points="497.1,209 500,210.7 500,211.9 497.1,210.2" fill="#f4f4f2"/><polygon points="497.1,211.8 500,213.5 500,217.3 497.1,215.7" fill="#82858f"/><polygon points="497.1,214.4 500,216.1 500,217.3 497.1,215.7" fill="#f4f4f2"/><polygon points="502.3,204 505.2,205.7 505.2,209.5 502.3,207.8" fill="#82858f"/><polygon points="502.3,206.6 505.2,208.3 505.2,209.5 502.3,207.8" fill="#f4f4f2"/><polygon points="502.3,209.4 505.2,211.1 505.2,214.9 502.3,213.2" fill="#82858f"/><polygon points="502.3,212 505.2,213.7 505.2,214.9 502.3,213.2" fill="#f4f4f2"/><polygon points="502.3,214.8 505.2,216.5 505.2,220.3 502.3,218.6" fill="#82858f"/><polygon points="502.3,217.4 505.2,219.1 505.2,220.3 502.3,218.6" fill="#f4f4f2"/><polygon points="505.9,206.1 508.8,207.8 508.8,211.6 505.9,209.9" fill="#82858f"/><polygon points="505.9,208.7 508.8,210.4 508.8,211.6 505.9,209.9" fill="#f4f4f2"/><polygon points="505.9,211.5 508.8,213.2 508.8,217 505.9,215.3" fill="#82858f"/><polygon points="505.9,214.1 508.8,215.8 508.8,217 505.9,215.3" fill="#f4f4f2"/><polygon points="505.9,216.9 508.8,218.6 508.8,222.4 505.9,220.7" fill="#82858f"/><polygon points="505.9,219.5 508.8,221.2 508.8,222.4 505.9,220.7" fill="#f4f4f2"/><polygon points="511.1,209.1 514,210.8 514,214.6 511.1,212.9" fill="#82858f"/><polygon points="511.1,211.7 514,213.4 514,214.6 511.1,212.9" fill="#f4f4f2"/><polygon points="511.1,214.5 514,216.2 514,220 511.1,218.3" fill="#82858f"/><polygon points="511.1,217.1 514,218.8 514,220 511.1,218.3" fill="#f4f4f2"/><polygon points="511.1,219.9 514,221.6 514,225.4 511.1,223.7" fill="#82858f"/><polygon points="511.1,222.5 514,224.2 514,225.4 511.1,223.7" fill="#f4f4f2"/><polygon points="514.7,211.2 517.6,212.8 517.6,216.6 514.7,215" fill="#82858f"/><polygon points="514.7,213.8 517.6,215.4 517.6,216.6 514.7,215" fill="#f4f4f2"/><polygon points="514.7,216.6 517.6,218.2 517.6,222 514.7,220.4" fill="#82858f"/><polygon points="514.7,219.2 517.6,220.8 517.6,222 514.7,220.4" fill="#f4f4f2"/><polygon points="514.7,222 517.6,223.6 517.6,227.4 514.7,225.8" fill="#82858f"/><polygon points="514.7,224.6 517.6,226.2 517.6,227.4 514.7,225.8" fill="#f4f4f2"/><polygon points="519.9,214.2 522.8,215.8 522.8,219.6 519.9,218" fill="#82858f"/><polygon points="519.9,216.8 522.8,218.4 522.8,219.6 519.9,218" fill="#f4f4f2"/><polygon points="519.9,219.6 522.8,221.2 522.8,225 519.9,223.4" fill="#82858f"/><polygon points="519.9,222.2 522.8,223.8 522.8,225 519.9,223.4" fill="#f4f4f2"/><polygon points="519.9,225 522.8,226.6 522.8,230.4 519.9,228.8" fill="#82858f"/><polygon points="519.9,227.6 522.8,229.2 522.8,230.4 519.9,228.8" fill="#f4f4f2"/><polygon points="523.5,216.2 526.4,217.9 526.4,221.7 523.5,220" fill="#82858f"/><polygon points="523.5,218.8 526.4,220.5 526.4,221.7 523.5,220" fill="#f4f4f2"/><polygon points="523.5,221.6 526.4,223.3 526.4,227.1 523.5,225.4" fill="#82858f"/><polygon points="523.5,224.2 526.4,225.9 526.4,227.1 523.5,225.4" fill="#f4f4f2"/><polygon points="523.5,227 526.4,228.7 526.4,232.5 523.5,230.8" fill="#82858f"/><polygon points="523.5,229.6 526.4,231.3 526.4,232.5 523.5,230.8" fill="#f4f4f2"/><polygon points="483.1,188.6 529.1,215 529.1,217.4 483.1,191" fill="#dcc6a6"/><polygon points="529.1,215 541.4,208 541.4,210.4 529.1,217.4" fill="#c9b08e"/><polygon points="483.1,188.6 529.1,215 541.4,208 495.4,181.5" fill="#dcc6a6"/><polygon points="485.7,188.6 529.1,213.6 538.8,208 495.4,183" fill="#cfd2da"/><polygon points="485.7,188.6 529.1,213.6 532.3,211.7 488.9,186.8" fill="#dfe1e7"/><polygon points="508.5,194 523.5,202.6 523.5,196.4 508.5,187.8" fill="#e8e3c9"/><polygon points="523.5,202.6 527.5,200.3 527.5,194.1 523.5,196.4" fill="#d2ccb0"/><polygon points="508.5,187.8 523.5,196.4 527.5,194.1 512.5,185.5" fill="#f1edd9"/>
<polygon points="497.6,228.4 503.6,231.8 503.6,223.2 497.6,219.8" fill="#eeeae0"/><polygon points="503.6,231.8 517.2,224 517.2,215.4 503.6,223.2" fill="#e4e1d8"/><polygon points="497.6,219.8 503.6,223.2 517.2,215.4 511.2,212" fill="#e2cba9"/>
<polygon points="504,227.2 510,223.8 510,228.6 504,232" fill="#b9bcc6"/>
<polygon points="446.9,231 492.9,257.4 492.9,236.8 446.9,210.4" fill="#efece4"/><polygon points="492.9,257.4 505.2,250.4 505.2,229.8 492.9,236.8" fill="#d9d6cb"/><polygon points="446.9,210.4 492.9,236.8 505.2,229.8 459.2,203.3" fill="#cfd2da"/><polygon points="448.5,215.7 451.4,217.4 451.4,221.2 448.5,219.5" fill="#82858f"/><polygon points="448.5,218.3 451.4,220 451.4,221.2 448.5,219.5" fill="#f4f4f2"/><polygon points="448.5,221.1 451.4,222.8 451.4,226.6 448.5,224.9" fill="#82858f"/><polygon points="448.5,223.7 451.4,225.4 451.4,226.6 448.5,224.9" fill="#f4f4f2"/><polygon points="448.5,226.5 451.4,228.2 451.4,232 448.5,230.3" fill="#82858f"/><polygon points="448.5,229.1 451.4,230.8 451.4,232 448.5,230.3" fill="#f4f4f2"/><polygon points="452.1,217.8 455,219.5 455,223.3 452.1,221.6" fill="#82858f"/><polygon points="452.1,220.4 455,222.1 455,223.3 452.1,221.6" fill="#f4f4f2"/><polygon points="452.1,223.2 455,224.9 455,228.7 452.1,227" fill="#82858f"/><polygon points="452.1,225.8 455,227.5 455,228.7 452.1,227" fill="#f4f4f2"/><polygon points="452.1,228.6 455,230.3 455,234.1 452.1,232.4" fill="#82858f"/><polygon points="452.1,231.2 455,232.9 455,234.1 452.1,232.4" fill="#f4f4f2"/><polygon points="457.3,220.8 460.2,222.4 460.2,226.2 457.3,224.6" fill="#82858f"/><polygon points="457.3,223.4 460.2,225 460.2,226.2 457.3,224.6" fill="#f4f4f2"/><polygon points="457.3,226.2 460.2,227.8 460.2,231.6 457.3,230" fill="#82858f"/><polygon points="457.3,228.8 460.2,230.4 460.2,231.6 457.3,230" fill="#f4f4f2"/><polygon points="457.3,231.6 460.2,233.2 460.2,237 457.3,235.4" fill="#82858f"/><polygon points="457.3,234.2 460.2,235.8 460.2,237 457.3,235.4" fill="#f4f4f2"/><polygon points="460.9,222.9 463.8,224.5 463.8,228.3 460.9,226.7" fill="#82858f"/><polygon points="460.9,225.5 463.8,227.1 463.8,228.3 460.9,226.7" fill="#f4f4f2"/><polygon points="460.9,228.2 463.8,229.9 463.8,233.7 460.9,232.1" fill="#82858f"/><polygon points="460.9,230.8 463.8,232.5 463.8,233.7 460.9,232.1" fill="#f4f4f2"/><polygon points="460.9,233.7 463.8,235.3 463.8,239.1 460.9,237.5" fill="#82858f"/><polygon points="460.9,236.2 463.8,237.9 463.8,239.1 460.9,237.5" fill="#f4f4f2"/><polygon points="466.1,225.8 469,227.5 469,231.3 466.1,229.6" fill="#82858f"/><polygon points="466.1,228.4 469,230.1 469,231.3 466.1,229.6" fill="#f4f4f2"/><polygon points="466.1,231.2 469,232.9 469,236.7 466.1,235" fill="#82858f"/><polygon points="466.1,233.8 469,235.5 469,236.7 466.1,235" fill="#f4f4f2"/><polygon points="466.1,236.6 469,238.3 469,242.1 466.1,240.4" fill="#82858f"/><polygon points="466.1,239.2 469,240.9 469,242.1 466.1,240.4" fill="#f4f4f2"/><polygon points="469.7,227.9 472.6,229.6 472.6,233.4 469.7,231.7" fill="#82858f"/><polygon points="469.7,230.5 472.6,232.2 472.6,233.4 469.7,231.7" fill="#f4f4f2"/><polygon points="469.7,233.3 472.6,235 472.6,238.8 469.7,237.1" fill="#82858f"/><polygon points="469.7,235.9 472.6,237.6 472.6,238.8 469.7,237.1" fill="#f4f4f2"/><polygon points="469.7,238.7 472.6,240.4 472.6,244.2 469.7,242.5" fill="#82858f"/><polygon points="469.7,241.3 472.6,243 472.6,244.2 469.7,242.5" fill="#f4f4f2"/><polygon points="474.9,230.9 477.8,232.6 477.8,236.4 474.9,234.7" fill="#82858f"/><polygon points="474.9,233.5 477.8,235.2 477.8,236.4 474.9,234.7" fill="#f4f4f2"/><polygon points="474.9,236.3 477.8,238 477.8,241.8 474.9,240.1" fill="#82858f"/><polygon points="474.9,238.9 477.8,240.6 477.8,241.8 474.9,240.1" fill="#f4f4f2"/><polygon points="474.9,241.7 477.8,243.4 477.8,247.2 474.9,245.5" fill="#82858f"/><polygon points="474.9,244.3 477.8,246 477.8,247.2 474.9,245.5" fill="#f4f4f2"/><polygon points="478.5,233 481.4,234.6 481.4,238.4 478.5,236.8" fill="#82858f"/><polygon points="478.5,235.6 481.4,237.2 481.4,238.4 478.5,236.8" fill="#f4f4f2"/><polygon points="478.5,238.4 481.4,240 481.4,243.8 478.5,242.2" fill="#82858f"/><polygon points="478.5,241 481.4,242.6 481.4,243.8 478.5,242.2" fill="#f4f4f2"/><polygon points="478.5,243.8 481.4,245.4 481.4,249.2 478.5,247.6" fill="#82858f"/><polygon points="478.5,246.4 481.4,248 481.4,249.2 478.5,247.6" fill="#f4f4f2"/><polygon points="483.7,236 486.6,237.6 486.6,241.4 483.7,239.8" fill="#82858f"/><polygon points="483.7,238.6 486.6,240.2 486.6,241.4 483.7,239.8" fill="#f4f4f2"/><polygon points="483.7,241.4 486.6,243 486.6,246.8 483.7,245.2" fill="#82858f"/><polygon points="483.7,244 486.6,245.6 486.6,246.8 483.7,245.2" fill="#f4f4f2"/><polygon points="483.7,246.8 486.6,248.4 486.6,252.2 483.7,250.6" fill="#82858f"/><polygon points="483.7,249.4 486.6,251 486.6,252.2 483.7,250.6" fill="#f4f4f2"/><polygon points="487.3,238 490.2,239.7 490.2,243.5 487.3,241.8" fill="#82858f"/><polygon points="487.3,240.6 490.2,242.3 490.2,243.5 487.3,241.8" fill="#f4f4f2"/><polygon points="487.3,243.4 490.2,245.1 490.2,248.9 487.3,247.2" fill="#82858f"/><polygon points="487.3,246 490.2,247.7 490.2,248.9 487.3,247.2" fill="#f4f4f2"/><polygon points="487.3,248.8 490.2,250.5 490.2,254.3 487.3,252.6" fill="#82858f"/><polygon points="487.3,251.4 490.2,253.1 490.2,254.3 487.3,252.6" fill="#f4f4f2"/><polygon points="446.9,210.4 492.9,236.8 492.9,239.2 446.9,212.8" fill="#dcc6a6"/><polygon points="492.9,236.8 505.2,229.8 505.2,232.2 492.9,239.2" fill="#c9b08e"/><polygon points="446.9,210.4 492.9,236.8 505.2,229.8 459.2,203.3" fill="#dcc6a6"/><polygon points="449.5,210.4 492.9,235.4 502.6,229.8 459.2,204.8" fill="#cfd2da"/><polygon points="449.5,210.4 492.9,235.4 496.1,233.5 452.7,208.6" fill="#dfe1e7"/><polygon points="472.3,215.8 487.3,224.4 487.3,218.2 472.3,209.6" fill="#e8e3c9"/><polygon points="487.3,224.4 491.3,222.1 491.3,215.9 487.3,218.2" fill="#d2ccb0"/><polygon points="472.3,209.6 487.3,218.2 491.3,215.9 476.3,207.3" fill="#f1edd9"/>
<polygon points="463.8,237.2 470.4,241 470.4,239.5 463.8,235.7" fill="#dcc6a6"/><polygon points="470.4,241 474.4,238.7 474.4,237.2 470.4,239.5" fill="#c9b08e"/><polygon points="463.8,235.7 470.4,239.5 474.4,237.2 467.8,233.4" fill="#f0e4cf"/>
<polygon points="463.6,244 470.6,248 470.6,246.8 463.6,242.8" fill="#d7d7d6"/><polygon points="470.6,248 473.6,246.3 473.6,245.1 470.6,246.8" fill="#c9c9c8"/><polygon points="463.6,242.8 470.6,246.8 473.6,245.1 466.6,241.1" fill="#f4f4f2"/>
<path d="M164.9 308.1 l2.7 0 l-0.2 13.4 l-2.4 0 z M168 308.1 l2.7 0 l-0.1 12.6 l-2.4 0 z" fill="#1e2a40"/><ellipse cx="166.2" cy="321.5" rx="1.6" ry="0.6" fill="#15182a"/><ellipse cx="169.4" cy="320.7" rx="1.6" ry="0.6" fill="#15182a"/><path d="M164.1 300.6 Q167.8 297.2 171.5 300.6 L171.8 306.6 L170.7 308.9 L164.8 308.9 L163.8 306.6 Z" fill="#e0705c"/><circle cx="167.8" cy="296.8" r="2.2" fill="#f1c7a5"/><path d="M165.6 297.2 A2.2 2.2 0 0 1 170 296.4 L168.2 295.7 Z" fill="#7a3b22"/>
<path d="M176.4 300.8 l2.8 0 l-0.3 14.2 l-2.5 0 z M179.7 300.8 l2.8 0 l-0.1 13.3 l-2.5 0 z" fill="#1b2540"/><ellipse cx="177.8" cy="315" rx="1.7" ry="0.6" fill="#15182a"/><ellipse cx="181.2" cy="314.1" rx="1.7" ry="0.6" fill="#15182a"/><path d="M175.6 293 Q179.5 289.4 183.4 293 L183.8 299.3 L182.6 301.6 L176.3 301.6 L175.2 299.3 Z" fill="#1f2a48"/><circle cx="179.5" cy="289" r="2.3" fill="#f1c7a5"/><path d="M177.2 289.4 A2.3 2.3 0 0 1 181.8 288.5 L180 287.8 Z" fill="#d89a3c"/>
<path d="M170.5 303.5 L176 301.2" stroke="#f1c7a5" stroke-width="1.4"/>
<polygon points="120,342 133.5,334.6 139,337.8 125.5,345.2" fill="#fafbfd"/>
<path d="M121 343 L119.2 351 M126 345.5 L127 353.8 M138.5 338.5 L139 344" stroke="#d3d6e2" stroke-width=".7"/>
<polygon points="132.5,332 137.5,329.2 137.5,334.2 132.5,337" fill="#7fb0ec"/>
<path d="M128 331 l1.6 -2.6 l1.2 1.6 z" fill="#1d2238"/><path d="M128.8 331 L128 336" stroke="#1d2238" stroke-width=".6"/>
<ellipse cx="129.5" cy="339.3" rx="1.8" ry=".9" fill="#22263c"/>
<path d="M147 340 l4.5 -2.5 l0 10 l-5 5.5 z" fill="#ecebf2"/>
<path d="M141.5 336.5 q3.6 -2.6 5.6 .6 l.6 8.4 l-4.6 2.6 l-1 5.6 l-3 -.4 l.6 -6.6 l2.8 -2.2 z" fill="#2f62b8"/>
<path d="M141.8 346.8 l5.2 -1.2 l-3 4 l-1.4 5.2 l-3 -.6 z" fill="#1e2744"/>
<circle cx="144.2" cy="332.6" r="2.2" fill="#eec3a2"/><path d="M142 332.8 a2.4 2.4 0 0 1 4.8 -1 l.6 5 l-2 -.4 l-.4 -3.6 z" fill="#191b2c"/>
<polygon points="209.7,367.4 216.2,371.1 233.2,361.4 226.7,357.6" fill="#f8f8fc"/>
<polygon points="200.8,346 211.7,339.8 211.7,350.5 200.8,356.7" fill="#f8f9fc"/>
<circle cx="206.3" cy="348" r="2.6" fill="none" stroke="#3b6fc4" stroke-width="1.3"/><path d="M206.3 345.4 a2.6 2.6 0 0 1 2.5 2" stroke="#e8542e" stroke-width="1.3" fill="none"/>
<polygon points="212.7,340.5 227.5,332 227.5,350.2 212.7,358.7" fill="#f8f9fc"/>
<polygon points="214.2,342.2 226,335.5 226,343.2 214.2,350" fill="#5e7aa5"/>
<polygon points="214.2,344.2 220,341 220,346.6 214.2,350" fill="#8e9bb6"/>
<rect x="215" y="353.2" width="1.8" height="1.8" fill="#f0b429"/><rect x="218.8" y="351" width="1.8" height="1.8" fill="#c9d3e6"/><rect x="222.6" y="348.8" width="1.8" height="1.8" fill="#e8542e"/>
<polygon points="225.5,329 239.4,321 239.4,332 225.5,340" fill="#fbfbfd"/>
<path d="M227.5 333.5 l2 -3 l1.5 1.5 l2 -4 l1.6 2.4 l2 -4.4" stroke="#9ab0d6" stroke-width=".6" fill="none"/>
<path d="M227 337.6 L238.4 331" stroke="#e8542e" stroke-width="1"/>
<path d="M240.8 344.6 l2.4 0 l-0.2 14.9 l-2.1 0 z M243.4 344.6 l2.4 0 l-0.1 13.9 l-2.1 0 z" fill="#f1c7a5"/><ellipse cx="241.9" cy="359.5" rx="1.4" ry="0.6" fill="#15182a"/><ellipse cx="244.7" cy="358.6" rx="1.4" ry="0.6" fill="#15182a"/><path d="M240.1 336.4 Q243.3 332.6 246.5 336.4 L246.8 343 L245.8 345.4 L240.6 345.4 L239.8 343 Z" fill="#3a4254"/><circle cx="243.3" cy="332.1" r="2.4" fill="#f1c7a5"/><path d="M240.9 332.6 A2.4 2.4 0 0 1 245.7 331.7 L243.8 330.9 Z" fill="#1a1b28"/>
<path d="M239.8 345.5 l7.2 0 l1 6.5 l-9 0 z" fill="#3a4254"/>
<path d="M241 337.5 L236.5 339.2" stroke="#3a4254" stroke-width="1.3"/>
<path d="M252.4 353.2 l6.4 3.6 l0 7 l-6.4 -3.6 z" fill="#e8735a"/><path d="M248.4 359.2 l7 4 l-4 2.3 l-7 -4 z" fill="#d85f48"/><path d="M248.4 359.6 l0 6 M255.4 363.6 l0 6 M258.9 361.8 l0 6" stroke="#d9dbe6" stroke-width=".7"/><path d="M249.7 351.6 q3 -2.4 5.4 .2 l.6 6.8 l-5.8 2.4 z" fill="#1f2236"/><path d="M249.5 359.4 l5.6 -2 l-3.2 4.4 l-1 5 l-2.6 -.6 l.4 -5.6 z" fill="#1e2744"/><circle cx="252.3" cy="348.6" r="2" fill="#eec3a2"/><path d="M250.3 348.6 a2 2 0 0 1 4 -.4 z" fill="#1b1d2e"/>
<path d="M262.3 349.3 l6.4 3.6 l0 7 l-6.4 -3.6 z" fill="#e8735a"/><path d="M258.3 355.3 l7 4 l-4 2.3 l-7 -4 z" fill="#d85f48"/><path d="M258.3 355.7 l0 6 M265.3 359.7 l0 6 M268.8 357.9 l0 6" stroke="#d9dbe6" stroke-width=".7"/><path d="M259.6 347.7 q3 -2.4 5.4 .2 l.6 6.8 l-5.8 2.4 z" fill="#f4f6fb"/><path d="M259.4 355.5 l5.6 -2 l-3.2 4.4 l-1 5 l-2.6 -.6 l.4 -5.6 z" fill="#1e2744"/><circle cx="262.2" cy="344.7" r="2" fill="#eec3a2"/><path d="M260.2 344.7 a2 2 0 0 1 4 -.4 z" fill="#1b1d2e"/>
<path d="M272.1 355.2 l6.4 3.6 l0 7 l-6.4 -3.6 z" fill="#e8735a"/><path d="M268.1 361.2 l7 4 l-4 2.3 l-7 -4 z" fill="#d85f48"/><path d="M268.1 361.6 l0 6 M275.1 365.6 l0 6 M278.6 363.8 l0 6" stroke="#d9dbe6" stroke-width=".7"/><path d="M269.4 353.6 q3 -2.4 5.4 .2 l.6 6.8 l-5.8 2.4 z" fill="#62728f"/><path d="M269.2 361.4 l5.6 -2 l-3.2 4.4 l-1 5 l-2.6 -.6 l.4 -5.6 z" fill="#1e2744"/><circle cx="272" cy="350.6" r="2" fill="#eec3a2"/><path d="M270 350.6 a2 2 0 0 1 4 -.4 z" fill="#2a3350"/>
<path d="M238.9 362.1 l6.4 3.6 l0 7 l-6.4 -3.6 z" fill="#e8735a"/><path d="M234.9 368.1 l7 4 l-4 2.3 l-7 -4 z" fill="#d85f48"/><path d="M234.9 368.5 l0 6 M241.9 372.5 l0 6 M245.4 370.7 l0 6" stroke="#d9dbe6" stroke-width=".7"/><path d="M236.2 360.5 q3 -2.4 5.4 .2 l.6 6.8 l-5.8 2.4 z" fill="#e6e9f2"/><path d="M236 368.3 l5.6 -2 l-3.2 4.4 l-1 5 l-2.6 -.6 l.4 -5.6 z" fill="#1e2744"/><circle cx="238.8" cy="357.5" r="2" fill="#eec3a2"/><path d="M236.8 357.5 a2 2 0 0 1 4 -.4 z" fill="#8a4a2a"/>
<path d="M250.4 370 l6.4 3.6 l0 7 l-6.4 -3.6 z" fill="#e8735a"/><path d="M246.4 376 l7 4 l-4 2.3 l-7 -4 z" fill="#d85f48"/><path d="M246.4 376.4 l0 6 M253.4 380.4 l0 6 M256.9 378.6 l0 6" stroke="#d9dbe6" stroke-width=".7"/><path d="M247.7 368.4 q3 -2.4 5.4 .2 l.6 6.8 l-5.8 2.4 z" fill="#e9c14a"/><path d="M247.5 376.2 l5.6 -2 l-3.2 4.4 l-1 5 l-2.6 -.6 l.4 -5.6 z" fill="#1e2744"/><circle cx="250.3" cy="365.4" r="2" fill="#eec3a2"/><path d="M248.3 365.4 a2 2 0 0 1 4 -.4 z" fill="#1b1d2e"/>
<path d="M261.3 365.1 l6.4 3.6 l0 7 l-6.4 -3.6 z" fill="#e8735a"/><path d="M257.3 371.1 l7 4 l-4 2.3 l-7 -4 z" fill="#d85f48"/><path d="M257.3 371.5 l0 6 M264.3 375.5 l0 6 M267.8 373.7 l0 6" stroke="#d9dbe6" stroke-width=".7"/><path d="M258.6 363.5 q3 -2.4 5.4 .2 l.6 6.8 l-5.8 2.4 z" fill="#20263c"/><path d="M258.4 371.3 l5.6 -2 l-3.2 4.4 l-1 5 l-2.6 -.6 l.4 -5.6 z" fill="#1e2744"/><circle cx="261.2" cy="360.5" r="2" fill="#eec3a2"/><path d="M259.2 360.5 a2 2 0 0 1 4 -.4 z" fill="#1b1d2e"/>
<polygon points="326.6,310.5 339.2,303.3 339.2,310.3 330.6,315.3 329,318.7 328.6,316.3 326.6,317.5" fill="#4b9be3"/><circle cx="329.9" cy="312.1" r=".85" fill="#eaf3fd"/><circle cx="332.9" cy="310.4" r=".85" fill="#eaf3fd"/><circle cx="335.9" cy="308.7" r=".85" fill="#eaf3fd"/>
<polygon points="343,311.2 355.6,304 355.6,311 347,316 345.4,319.4 345,317 343,318.2" fill="#4b9be3"/><circle cx="346.3" cy="312.8" r=".85" fill="#eaf3fd"/><circle cx="349.3" cy="311.1" r=".85" fill="#eaf3fd"/><circle cx="352.3" cy="309.4" r=".85" fill="#eaf3fd"/>
<polygon points="336.5,358.6 344.5,363.2 352.5,358.6 344.5,354" fill="#eef0f6"/>
<polygon points="342.4,350 347,347.6 347.8,357 343.2,359.4" fill="#dfe2ec"/>
<polygon points="325.3,328.6 362.7,307.1 364,334.3 325.3,356.7" fill="#f1f3f9" stroke="#f1f3f9" stroke-width="1" stroke-linejoin="round"/>
<polygon points="325.3,328.6 362.7,307.1 363.9,332 325.3,354.2" fill="#1a1f3e"/>
<polygon points="327,330 361.2,310.4 362.2,330.8 327,351.4" fill="url(#gscr2)"/>
<path d="M334.8 346.6 l1.2 -9.4 q2.4 -5.4 7.4 -6.6 q4.6 0 5.6 4.4 l1.2 6 l-15.4 8.6 z" fill="#1f2540"/>
<path d="M341.8 332.4 l4 -1.8 l-.4 9.6 l-2.6 1.4 z" fill="#f3f6fb"/>
<circle cx="344" cy="325.8" r="3.3" fill="#eec3a2"/><path d="M340.7 325.8 a3.3 3.3 0 0 1 6.6 -1 l-.4 -1.6 l-4.2 -.4 z" fill="#1b1d2e"/>
<path d="M350.4 335 L352 328.6 M336 338.6 L332.8 335.4" stroke="#eec3a2" stroke-width="1.3"/>
<path d="M381.5 348.4 l5 -2.8 l0 8 l-5.6 5.8 z" fill="#efeef5"/><path d="M376.9 347 q3 -2.4 5 .4 l.4 6.4 l-4 2.2 l-.8 4.6 l-2.6 -.4 l.4 -5.4 l2.2 -1.8 z" fill="#2f62b8"/><circle cx="379.5" cy="344" r="1.9" fill="#eec3a2"/><path d="M377.5 344.2 a2 2 0 0 1 4 -.6 l.4 3 l-1.4 -.2 z" fill="#191b2c"/>
<path d="M366 355.4 l5 -2.8 l0 8 l-5.6 5.8 z" fill="#efeef5"/><path d="M361.4 354 q3 -2.4 5 .4 l.4 6.4 l-4 2.2 l-.8 4.6 l-2.6 -.4 l.4 -5.4 l2.2 -1.8 z" fill="#f3f5fa"/><circle cx="364" cy="351" r="1.9" fill="#eec3a2"/><path d="M362 351.2 a2 2 0 0 1 4 -.6 l.4 3 l-1.4 -.2 z" fill="#191b2c"/>
<path d="M350.3 363 l5 -2.8 l0 8 l-5.6 5.8 z" fill="#efeef5"/><path d="M345.7 361.6 q3 -2.4 5 .4 l.4 6.4 l-4 2.2 l-.8 4.6 l-2.6 -.4 l.4 -5.4 l2.2 -1.8 z" fill="#2a3350"/><circle cx="348.3" cy="358.6" r="1.9" fill="#eec3a2"/><path d="M346.3 358.8 a2 2 0 0 1 4 -.6 l.4 3 l-1.4 -.2 z" fill="#191b2c"/>
</g>
<text x="397.6" y="138.4" text-anchor="middle" font-family="'Liberation Sans','Noto Sans CJK JP',sans-serif" font-weight="bold" font-size="16.6" fill="#1b2f8e" textLength="61.5" lengthAdjust="spacingAndGlyphs">caricuru</text>
<text x="397.4" y="149.6" text-anchor="middle" font-family="'Liberation Sans','Noto Sans CJK JP',sans-serif" font-size="4.65" fill="#2a2a2a">就活生向けリクルートスーツの</text>
<text x="397.6" y="157.3" text-anchor="middle" font-family="'Liberation Sans','Noto Sans CJK JP',sans-serif" font-size="4.65" fill="#2a2a2a">無料レンタルサービス</text>
<text x="500" y="144.6" font-family="'Liberation Sans','Noto Sans CJK JP',sans-serif" font-weight="bold" font-size="14.2" fill="url(#gjk)" textLength="27.8" lengthAdjust="spacingAndGlyphs">就活</text>
<text x="531.2" y="139.6" font-family="'Liberation Sans','Noto Sans CJK JP',sans-serif" font-weight="bold" font-size="6.9" fill="#2f9be0" textLength="27" lengthAdjust="spacingAndGlyphs">マガジン</text>
<path d="M530.4 143.8 Q537.6 139.2 544.6 144.6 Q551.4 139.6 558.8 145.2" fill="none" stroke="#1b3a9a" stroke-width="1.15" stroke-linecap="round" stroke-linejoin="round"/>
<text x="529.6" y="155.8" text-anchor="middle" font-family="'Liberation Sans','Noto Sans CJK JP',sans-serif" font-size="4.65" fill="#2a2a2a">国内最大級就活ノウハウメディア</text>
<path d="M394 357.8 h7.4 a1.6 1.6 0 0 1 1.6 1.6 v8 a1.6 1.6 0 0 1 -1.6 1.6 h-5.2 l-2.4 2.2 l.2 -2.4 a1.6 1.6 0 0 1 -1.6 -1.6 v-7.8 a1.6 1.6 0 0 1 1.6 -1.6 z" fill="none" stroke="#1da0e8" stroke-width="1.1"/>
<rect x="395.4" y="354" width="10.4" height="11.6" rx="1.6" fill="#fbeef2" stroke="#e0202a" stroke-width="1.3"/>
<path d="M398 363.4 L403.6 355.8 L405.6 357.2 L400 364.6 L397.6 365.2 Z" fill="#e0202a"/>
<path d="M397.4 360.2 l1.4 1.8" stroke="#1da0e8" stroke-width="1"/>
<text x="407.6" y="366.3" font-family="'Liberation Sans','Noto Sans CJK JP',sans-serif" font-weight="900" font-size="8.6" fill="#e0202a" stroke="#e0202a" stroke-width=".35" textLength="25.2" lengthAdjust="spacingAndGlyphs">赤ペン</text>
<text x="433.2" y="366.2" font-family="'Liberation Sans','Noto Sans CJK JP',sans-serif" font-weight="bold" font-size="10.4" fill="#1da0e8" stroke="#1da0e8" stroke-width=".5" textLength="15.8" lengthAdjust="spacingAndGlyphs">ES</text>
<text x="421.2" y="382.8" text-anchor="middle" font-family="'Liberation Sans','Noto Sans CJK JP',sans-serif" font-size="4.65" fill="#2a2a2a">就活生向け無料ES添削サービス</text>
</svg>
<div class="card" style="left:66.2px;top:118.6px;width:112.6px;height:119.9px"><div class="ico" style="left:41.8px;top:11.2px"><svg viewBox="0 0 30 30"><g fill="none" stroke="#f0e6fa" stroke-width="0.8" stroke-linecap="round" stroke-linejoin="round">
<path d="M15 22.3 C11 19.6 8.2 17 8.2 13.6 C8.2 11.4 9.9 9.8 11.8 9.8 C13.2 9.8 14.3 10.6 15 11.8 C15.7 10.6 16.8 9.8 18.2 9.8 C20.1 9.8 21.8 11.4 21.8 13.6 C21.8 17 19 19.6 15 22.3 Z"/>
<path d="M9.2 15.2 L12.6 12.8 L15 14 L17.6 12.6 L20.8 15.4"/>
<path d="M12.8 13 L18.4 18.2 M11.6 14.6 L16.8 19.6 M10.8 16.6 L15.2 20.8 M15 14 L19.6 17.2"/>
</g></svg></div><h2 style="top:45px;letter-spacing:0.15px">新卒紹介事業</h2><p style="left:15.8px;top:58.4px;width:82.1px;line-height:9.2px"><span>企業の採用パートナーとして<i class="h">、</i><i class="h">「</i>本当に</span><span>採用したい<i class="h">」</i>と思える人材をピンポイ</span><span>ントで紹介しています<i class="h">。</i>無駄な書類選</span><span>考や面接を可能な限り減らし<i class="h">、</i>採用目</span><span class="last">標の達成と企業の成長に貢献します<i class="h">。</i></span></p></div>
<div class="card" style="left:465.9px;top:267.5px;width:112.2px;height:123.8px"><div class="ico" style="left:41.1px;top:10.7px"><svg viewBox="0 0 30 30"><g fill="none" stroke="#d9c4ee" stroke-width="0.8" stroke-linecap="round" stroke-linejoin="round">
<path d="M16.2 10.4 C18.8 8.6 22 10.6 21.8 13.8 C21.7 16 20.4 17.4 19 18.4"/>
<path d="M12.2 19.2 C9.4 17.8 8.6 14.6 10.2 12.4 C12 9.9 15.8 10 17.4 12.6 C19 15.2 17.8 18.2 15.6 19.6"/>
<circle cx="11.9" cy="20.4" r="2.3"/><circle cx="11.6" cy="20.3" r="0.7" fill="#e8dcf6"/>
</g></svg></div><h2 style="top:44.7px;letter-spacing:-0.3px">就職エージェントサービス</h2><p style="left:15.9px;top:58.5px;width:82px;line-height:9.2px"><span>内定獲得だけでなく<i class="h">、</i>入社後の活躍ま</span><span>で見据え<i class="h">、</i>自己分析から企業紹介まで</span><span>一貫した就活支援を行っています<i class="h">。</i>学</span><span>歴や地域による格差のない就職活動</span><span>を目指し<i class="h">、</i>年間約10,000名以上の就</span><span class="last">活生をサポートをしています<i class="h">。</i></span></p></div>
<svg class="illu" viewBox="0 0 645 455">
<g transform="rotate(40 184.4 210.6)"><path d="M175 210.6 a9.4 7 0 0 0 18.8 0 z" fill="#2b6cae"/><path d="M175 210.6 a9.4 5.6 0 0 1 18.8 0 z" fill="#b9d5ef"/><path d="M184.4 205 L184.4 210.6" stroke="#3f86c8" stroke-width=".8"/><path d="M175 210.6 L193.8 210.6" stroke="#e6f1fb" stroke-width=".8"/></g>
<path d="M179.6 236 l2.4 0 l.2 9.6 l-1.8 0 z M182.6 236 l2.4 0 l-.6 9.2 l-1.8 0 z" fill="#1f4a78"/>
<path d="M178.2 227 q3 -3.2 6.4 -.6 l4 -5.4 l1.6 1.2 l-4.2 7 l-.4 7.4 l-6.6 0 z" fill="#23407e"/>
<circle cx="181.6" cy="222" r="2.3" fill="#e8b796"/>
<path d="M179 222.6 q-.4 -3.8 2.8 -3.6 q2.4 .2 2.2 2.4 l-1.6 -.6 q-1.2 2.4 -.4 7.4 l-3.2 .4 q-.8 -3 .2 -6 z" fill="#5a2a1e"/>
<ellipse cx="180.6" cy="246" rx="1.5" ry=".7" fill="#15182a"/><ellipse cx="183.8" cy="245.6" rx="1.5" ry=".7" fill="#15182a"/>
</svg>
</body></html>
